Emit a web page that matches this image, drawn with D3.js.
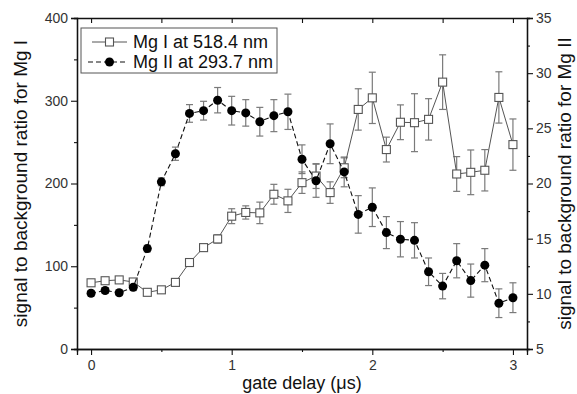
<!DOCTYPE html>
<html>
<head>
<meta charset="utf-8">
<script src="https://cdn.jsdelivr.net/npm/d3@7"></script>
<style>
  body { margin: 0; background: #fff; }
  svg { font-family: "Liberation Sans", Arial, sans-serif; }
</style>
</head>
<body>
<svg id="chart" width="577" height="394"></svg>
<script>
// gate delay in microseconds
var delay = [0,0.1,0.2,0.3,0.4,0.5,0.6,0.7,0.8,0.9,1.0,1.1,1.2,1.3,1.4,1.5,1.6,1.7,1.8,1.9,2.0,2.1,2.2,2.3,2.4,2.5,2.6,2.7,2.8,2.9,3.0];

// Mg I at 518.4 nm (left axis)
var mgI = [80,82.5,83.5,81,68.5,71.5,80.5,104.5,122.5,133,160.5,165,164.5,187,179,201,209,189,219,289.5,303.5,241,274,273.5,277.5,322.5,211.5,213.5,216,304,247];
var mgIErr = [3,3,3,3,3,3,3,3,4,5,9,8,13,12,14,13,15,13,12,25,31,15,21,35,25,33,21,27,25,31,31];

// Mg II at 293.7 nm (right axis)
var mgII = [10.05,10.3,10.1,10.6,14.1,20.15,22.7,26.35,26.6,27.55,26.6,26.4,25.6,26.15,26.5,22.2,20.25,23.6,21.05,17.2,17.85,15.55,14.95,14.85,12.0,10.7,13.0,11.2,12.6,9.15,9.65];
var mgIIErr = [0.25,0.25,0.25,0.3,0.3,0.35,0.6,0.8,0.85,1.15,1.3,1.2,1.3,1.45,1.6,1.3,1.5,1.8,1.35,1.7,1.75,1.45,1.6,1.6,1.25,1.15,1.55,1.5,1.5,1.3,1.35];

var xTicks = [0,1,2,3];
var leftTicks = [0,100,200,300,400];
var rightTicks = [5,10,15,20,25,30,35];

var svg = d3.select("#chart");
var margin = {top: 18, right: 50, bottom: 45, left: 77};
var width = 577 - margin.left - margin.right,
    height = 394 - margin.top - margin.bottom;

var g = svg.append("g").attr("transform", "translate(" + margin.left + "," + margin.top + ")");

var xScale = d3.scaleLinear().domain([-0.1, 3.1]).range([0, width]);
var yLeft = d3.scaleLinear().domain([0, 400]).range([height, 0]);
var yRight = d3.scaleLinear().domain([5, 35]).range([height, 0]);

var textCol = "#333";

function styleAxis(sel) {
  sel.select(".domain").attr("stroke", "#111").attr("stroke-width", 1.3);
  sel.selectAll(".tick line").attr("stroke", "#111").attr("stroke-width", 1.1);
  sel.selectAll(".tick text").attr("fill", textCol).style("font-size", "14px");
}

// minor ticks first (no labels)
g.append("g").attr("transform", "translate(0," + height + ")")
  .call(d3.axisBottom(xScale).tickValues([0.5,1.5,2.5]).tickSize(3).tickFormat(""))
  .call(styleAxis);
g.append("g").call(d3.axisLeft(yLeft).tickValues([50,150,250,350]).tickSize(3).tickFormat(""))
  .call(styleAxis);
g.append("g").attr("transform", "translate(" + width + ",0)")
  .call(d3.axisRight(yRight).tickValues([7.5,12.5,17.5,22.5,27.5,32.5]).tickSize(3).tickFormat(""))
  .call(styleAxis);

// major ticks
g.append("g").attr("transform", "translate(0," + height + ")")
  .call(d3.axisBottom(xScale).tickValues(xTicks).tickSize(6).tickPadding(5).tickFormat(d3.format("d")))
  .call(styleAxis);
g.append("g").call(d3.axisLeft(yLeft).tickValues(leftTicks).tickSize(6).tickPadding(3).tickFormat(d3.format("d")))
  .call(styleAxis);
g.append("g").attr("transform", "translate(" + width + ",0)")
  .call(d3.axisRight(yRight).tickValues(rightTicks).tickSize(6).tickPadding(3).tickFormat(d3.format("d")))
  .call(styleAxis);

// top axis, ticks inward
g.append("g")
  .call(d3.axisBottom(xScale).tickValues([0,0.5,1,1.5,2,2.5,3]).tickSize(5).tickSizeOuter(0).tickFormat(""))
  .call(styleAxis);

// axis titles
svg.append("text")
  .attr("x", margin.left + width / 2)
  .attr("y", 389)
  .attr("text-anchor", "middle")
  .attr("fill", "#111")
  .style("font-size", "18px")
  .text("gate delay (\u03bcs)");

svg.append("text")
  .attr("transform", "translate(27," + (margin.top + height / 2) + ") rotate(-90)")
  .attr("text-anchor", "middle")
  .attr("fill", "#111")
  .style("font-size", "19px")
  .text("signal to background ratio for Mg I");

svg.append("text")
  .attr("transform", "translate(571," + (margin.top + height / 2) + ") rotate(-90)")
  .attr("text-anchor", "middle")
  .attr("fill", "#111")
  .style("font-size", "19px")
  .text("signal to background ratio for Mg II");

var dataI = delay.map(function(d, i) { return {x: d, y: mgI[i], e: mgIErr[i]}; });
var dataII = delay.map(function(d, i) { return {x: d, y: mgII[i], e: mgIIErr[i]}; });

var errCol = "#7a7a7a";

function errorBars(data, scale) {
  var eg = g.append("g").attr("stroke", errCol).attr("stroke-width", 1.2);
  eg.selectAll(".eb").data(data).enter().append("line")
    .attr("x1", function(d) { return xScale(d.x); })
    .attr("x2", function(d) { return xScale(d.x); })
    .attr("y1", function(d) { return scale(d.y - d.e); })
    .attr("y2", function(d) { return scale(d.y + d.e); });
  eg.selectAll(".capT").data(data).enter().append("line")
    .attr("x1", function(d) { return xScale(d.x) - 3.5; })
    .attr("x2", function(d) { return xScale(d.x) + 3.5; })
    .attr("y1", function(d) { return scale(d.y + d.e); })
    .attr("y2", function(d) { return scale(d.y + d.e); });
  eg.selectAll(".capB").data(data).enter().append("line")
    .attr("x1", function(d) { return xScale(d.x) - 3.5; })
    .attr("x2", function(d) { return xScale(d.x) + 3.5; })
    .attr("y1", function(d) { return scale(d.y - d.e); })
    .attr("y2", function(d) { return scale(d.y - d.e); });
}

errorBars(dataI, yLeft);
errorBars(dataII, yRight);

// Mg I line + squares
var lineI = d3.line().x(function(d) { return xScale(d.x); }).y(function(d) { return yLeft(d.y); });
g.append("path").datum(dataI)
  .attr("d", lineI).attr("fill", "none").attr("stroke", "#555").attr("stroke-width", 1);
g.selectAll(".sq").data(dataI).enter().append("rect")
  .attr("x", function(d) { return xScale(d.x) - 4; })
  .attr("y", function(d) { return yLeft(d.y) - 4; })
  .attr("width", 8).attr("height", 8)
  .attr("fill", "#fff").attr("stroke", "#555").attr("stroke-width", 1.1);

// Mg II line + circles
var lineII = d3.line().x(function(d) { return xScale(d.x); }).y(function(d) { return yRight(d.y); });
g.append("path").datum(dataII)
  .attr("d", lineII).attr("fill", "none").attr("stroke", "#111").attr("stroke-width", 1.1)
  .attr("stroke-dasharray", "5,3");
g.selectAll(".dot").data(dataII).enter().append("circle")
  .attr("cx", function(d) { return xScale(d.x); })
  .attr("cy", function(d) { return yRight(d.y); })
  .attr("r", 4.5).attr("fill", "#000");

// legend
var lg = svg.append("g");
lg.append("rect").attr("x", 81).attr("y", 28).attr("width", 196).attr("height", 45)
  .attr("fill", "#fff").attr("stroke", "#555").attr("stroke-width", 1);
lg.append("line").attr("x1", 92).attr("x2", 127).attr("y1", 42).attr("y2", 42)
  .attr("stroke", "#555").attr("stroke-width", 1);
lg.append("rect").attr("x", 105.5).attr("y", 38).attr("width", 8).attr("height", 8)
  .attr("fill", "#fff").attr("stroke", "#555").attr("stroke-width", 1.1);
lg.append("line").attr("x1", 88).attr("x2", 128).attr("y1", 62).attr("y2", 62)
  .attr("stroke", "#111").attr("stroke-width", 1.1).attr("stroke-dasharray", "5,3");
lg.append("circle").attr("cx", 109.5).attr("cy", 62).attr("r", 4.5).attr("fill", "#000");
lg.append("text").attr("x", 133).attr("y", 48).attr("fill", "#111").style("font-size", "18px")
  .text("Mg I at 518.4 nm");
lg.append("text").attr("x", 133).attr("y", 68).attr("fill", "#111").style("font-size", "18px")
  .text("Mg II at 293.7 nm");
</script>
</body>
</html>
